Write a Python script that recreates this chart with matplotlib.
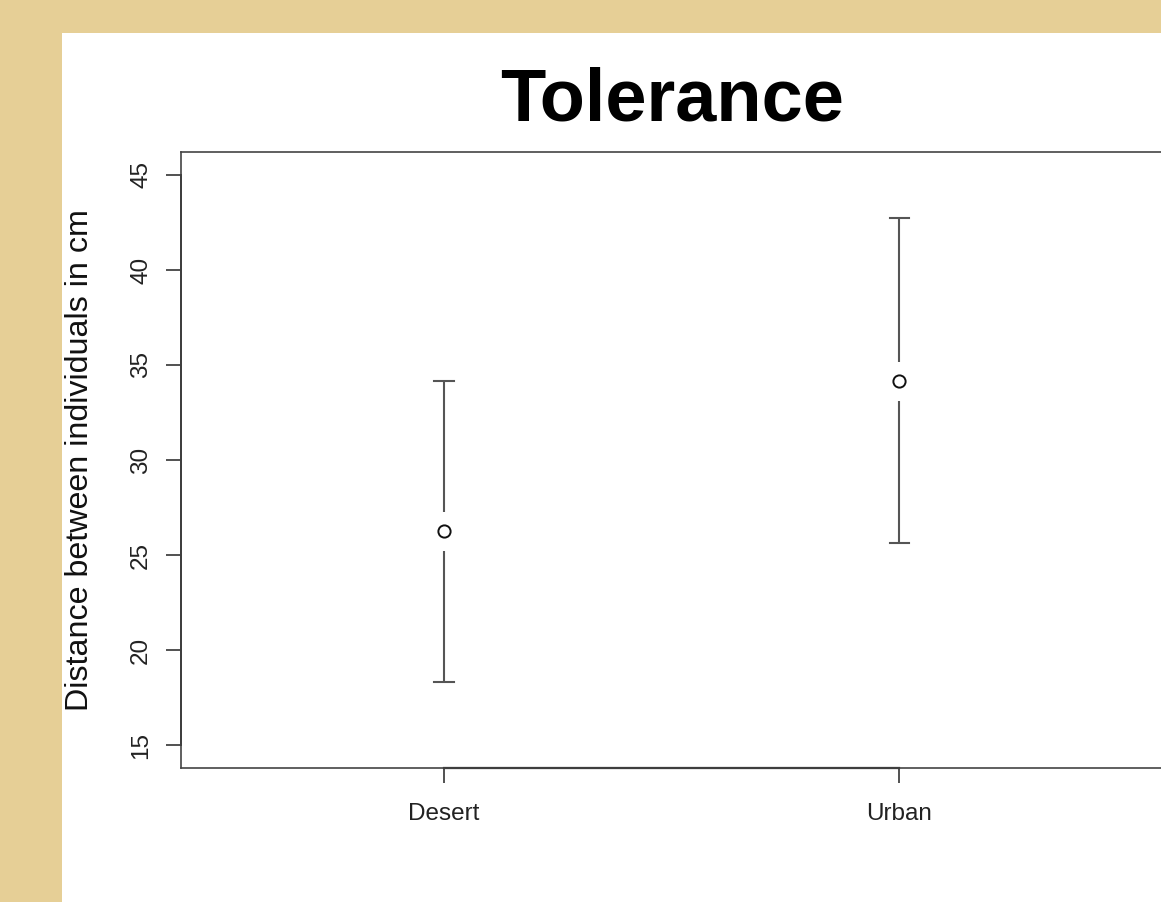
import matplotlib
matplotlib.use("Agg")
import matplotlib.pyplot as plt
from matplotlib.patches import Rectangle
import numpy as np

# data
groups = ["Desert", "Urban"]
means = [26.25, 34.15]
lower = [18.3, 25.65]
upper = [34.15, 42.75]
y_ticks = [15, 20, 25, 30, 35, 40, 45]

plt.rcParams["font.family"] = ["Liberation Sans", "DejaVu Sans"]

W, H = 1161, 902
fig = plt.figure(figsize=(W / 100, H / 100), dpi=100)
fig.patch.set_facecolor("#e6cf96")
# white slide panel on the papyrus background
fig.patches.append(Rectangle((62 / W, 0), 1 - 62 / W, (H - 33) / H,
                             transform=fig.transFigure, facecolor="white",
                             edgecolor="none", zorder=-10))

ax = fig.add_axes([181 / W, (H - 768) / H, (1163 - 181) / W, (768 - 152) / H])
ax.set_facecolor("white")

x = np.arange(1, len(groups) + 1)
ax.set_xlim(0.422, 2.580)
ax.set_ylim(13.79, 46.21)

line_col = "#555555"
gap = 1.03      # gap round the point, data units
cap = 0.021     # half width of the caps, data units
for xi, m, lo, hi in zip(x, means, lower, upper):
    ax.plot([xi, xi], [m + gap, hi], color=line_col, lw=1.5, solid_capstyle="butt")
    ax.plot([xi, xi], [lo, m - gap], color=line_col, lw=1.5, solid_capstyle="butt")
    ax.plot([xi - cap, xi + cap], [hi, hi], color=line_col, lw=1.5)
    ax.plot([xi - cap, xi + cap], [lo, lo], color=line_col, lw=1.5)
ax.plot(x, means, "o", mfc="white", mec="#111111", ms=8.8, mew=1.4, ls="none")

for s in ax.spines.values():
    s.set_color("#444444")
    s.set_linewidth(1.2)

# R draws its axis line from the first tick to the last one, over the box
ax.plot([x[0], x[-1]], [13.79, 13.79], color="#222222", lw=1.6, clip_on=False)
ax.plot([0.422, 0.422], [y_ticks[0], y_ticks[-1]], color="#222222", lw=1.4, clip_on=False)

ax.set_xticks(x)
ax.set_xticklabels(groups)
ax.set_yticks(y_ticks)
ax.set_yticklabels([str(v) for v in y_ticks], rotation=90, va="center")
ax.tick_params(axis="x", length=10.8, width=1.2, color="#333333", pad=14.5, labelsize=17.5,
               labelcolor="#222222")
ax.tick_params(axis="y", length=10.8, width=1.2, color="#333333", pad=10, labelsize=17.5,
               labelcolor="#222222")

ax.set_title("Tolerance", fontsize=53.3, fontweight="bold", pad=22.5)
fig.text(80 / W, 0.5 * ((H - 768) / H + (H - 152) / H), "Distance between individuals in cm",
         rotation=90, ha="center", va="center", fontsize=23.2, color="#111111")

fig.savefig("out.png", dpi=100, facecolor=fig.get_facecolor())
